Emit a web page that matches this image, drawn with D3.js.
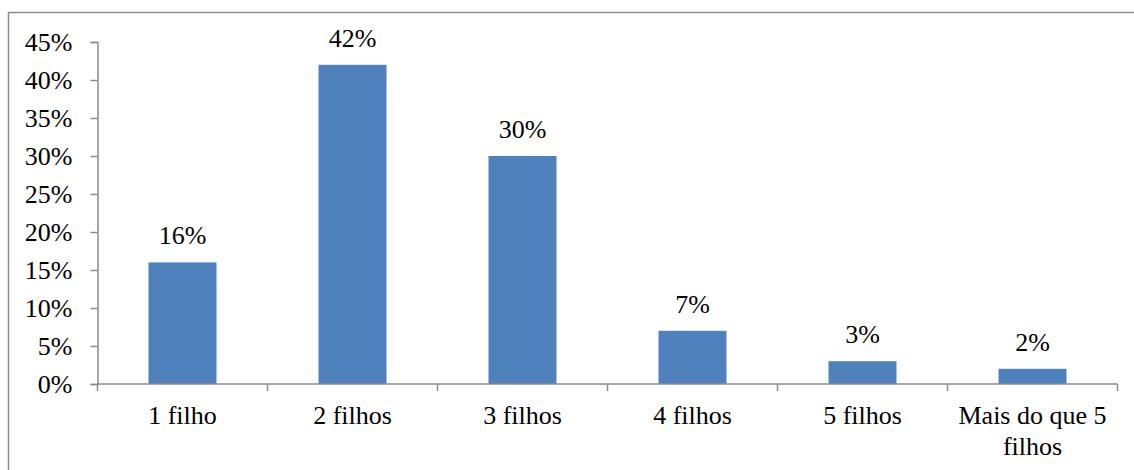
<!DOCTYPE html>
<html>
<head>
<meta charset="utf-8">
<script src="https://cdn.jsdelivr.net/npm/d3@7"></script>
<style>
  html, body { margin: 0; padding: 0; background: #fff; }
  svg { display: block; }
</style>
</head>
<body>
<svg id="chart" width="1134" height="470"></svg>
<script>
// Number of children per family, share of respondents (%)
const categories = ["1 filho", "2 filhos", "3 filhos", "4 filhos", "5 filhos", "Mais do que 5 filhos"];
const values = [16, 42, 30, 7, 3, 2];
const yTicks = [0, 5, 10, 15, 20, 25, 30, 35, 40, 45];

const svg = d3.select("#chart");
const W = 1134, H = 470;
const fontSize = 26;
const fontFamily = "'Liberation Serif', 'Times New Roman', serif";
const axisColor = "#8c8c8c";
const barColor = "#4f81bd";

// Outer frame (only the top and left edges fall inside the view)
svg.append("rect")
  .attr("x", 8.5).attr("y", 12.5)
  .attr("width", W + 20).attr("height", H + 20)
  .attr("fill", "none")
  .attr("stroke", axisColor)
  .attr("stroke-width", 1.5);

const plotLeft = 97.5, plotRight = 1117.5, plotTop = 42, plotBottom = 384;

const x = d3.scaleBand().domain(categories).range([plotLeft, plotRight]).paddingInner(0.6).paddingOuter(0.3);
const xOuter = d3.scaleBand().domain(categories).range([plotLeft, plotRight]);
const y = d3.scaleLinear().domain([0, 45]).range([plotBottom, plotTop]);

// Y axis
const yAxis = svg.append("g").attr("transform", `translate(${plotLeft},0)`)
  .call(d3.axisLeft(y).tickValues(yTicks).tickSize(7).tickPadding(18).tickFormat(d => d + "%"));
yAxis.attr("font-family", null).attr("font-size", null);
yAxis.select(".domain").attr("stroke", axisColor).attr("stroke-width", 1.5);
yAxis.selectAll(".tick line").attr("stroke", axisColor).attr("stroke-width", 1.5);
yAxis.selectAll(".tick text")
  .style("font-size", fontSize + "px")
  .style("font-family", fontFamily)
  .attr("fill", "#000");

// Bars
svg.append("g").selectAll("rect")
  .data(values)
  .join("rect")
  .attr("x", (d, i) => x(categories[i]))
  .attr("y", d => y(d))
  .attr("width", x.bandwidth())
  .attr("height", d => y(0) - y(d))
  .attr("fill", barColor);

// Value labels above bars
svg.append("g").selectAll("text")
  .data(values)
  .join("text")
  .attr("x", (d, i) => x(categories[i]) + x.bandwidth() / 2)
  .attr("y", d => y(d) - 18)
  .attr("text-anchor", "middle")
  .style("font-size", fontSize + "px")
  .style("font-family", fontFamily)
  .attr("fill", "#000")
  .text(d => d + "%");

// X axis: baseline with category boundary ticks
const boundaries = categories.map(c => xOuter(c)).concat([plotRight]);
svg.append("line")
  .attr("x1", plotLeft).attr("x2", plotRight)
  .attr("y1", plotBottom).attr("y2", plotBottom)
  .attr("stroke", axisColor).attr("stroke-width", 1.5);
svg.append("g").selectAll("line")
  .data(boundaries)
  .join("line")
  .attr("x1", d => d).attr("x2", d => d)
  .attr("y1", plotBottom).attr("y2", plotBottom + 7)
  .attr("stroke", axisColor).attr("stroke-width", 1.5);

// Category labels, wrapped to fit the band
const lines = {
  "Mais do que 5 filhos": ["Mais do que 5", "filhos"]
};
const catLabels = svg.append("g").selectAll("text")
  .data(categories)
  .join("text")
  .attr("x", d => xOuter(d) + xOuter.bandwidth() / 2)
  .attr("y", 424)
  .attr("text-anchor", "middle")
  .style("font-size", fontSize + "px")
  .style("font-family", fontFamily)
  .attr("fill", "#000");
catLabels.each(function(d) {
  const parts = lines[d] || [d];
  const t = d3.select(this);
  parts.forEach((p, i) => {
    t.append("tspan")
      .attr("x", xOuter(d) + xOuter.bandwidth() / 2)
      .attr("dy", i === 0 ? 0 : 31)
      .text(p);
  });
});
</script>
</body>
</html>
